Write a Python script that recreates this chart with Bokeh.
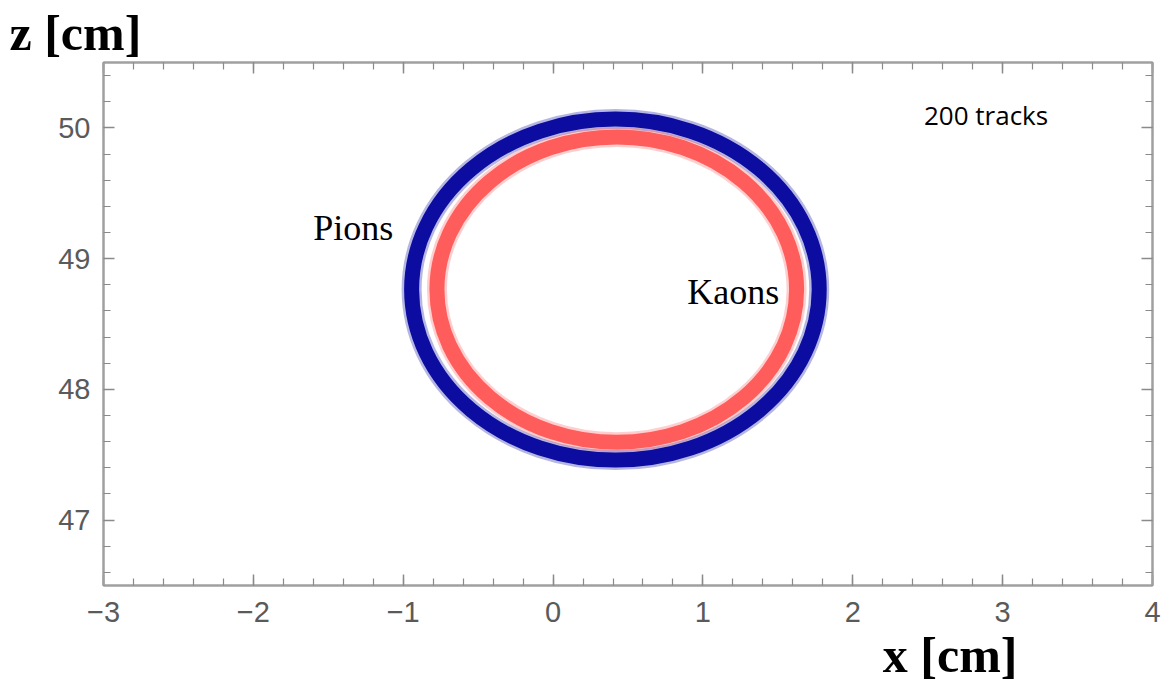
from bokeh.plotting import figure
from bokeh.models import LinearAxis, FixedTicker, Label, Range1d, Title
from bokeh.embed import file_html
from bokeh.resources import INLINE

# Ring parameters (centre, full width, full height in cm)
species = ["Pions", "Kaons"]
center_x = [0.416, 0.425]
center_z = [48.763, 48.763]
ring_width = [2.72, 2.40]
ring_height = [2.61, 2.336]
ring_colors = ["#0c0ca0", "#ff5c5c"]

x_ticks = [-3, -2, -1, 0, 1, 2, 3, 4]
z_ticks = [47, 48, 49, 50]
x_minor = [round(-3 + 0.2 * i, 1) for i in range(36)]
z_minor = [round(46.6 + 0.2 * i, 1) for i in range(20)]

p = figure(width=1166, height=685, output_backend="svg", toolbar_location=None,
           x_range=Range1d(-3, 4), y_range=Range1d(46.5, 50.5),
           min_border_left=103, min_border_top=61, min_border_right=14, min_border_bottom=100,
           x_axis_location=None, y_axis_location=None)
p.grid.visible = False
p.outline_line_color = "#a0a0a0"
p.outline_line_width = 2

p.title.text = "z [cm]"
p.title.text_font = "Liberation Serif"
p.title.text_font_style = "bold"
p.title.text_font_size = "50px"
p.title.text_color = "black"
p.title.align = "left"
p.title.offset = -94
p.title.standoff = 4

def style_axis(ax, ticks, minor, show_labels):
    ax.ticker = FixedTicker(ticks=ticks, minor_ticks=minor)
    ax.axis_line_color = "#a0a0a0"
    ax.axis_line_width = 2
    ax.major_tick_line_color = "#8a8a8a"
    ax.minor_tick_line_color = "#8a8a8a"
    ax.major_tick_line_width = 1.5
    ax.minor_tick_line_width = 1.2
    ax.major_tick_in = 11
    ax.major_tick_out = 0
    ax.minor_tick_in = 7
    ax.minor_tick_out = 0
    if show_labels:
        ax.major_label_text_font = "Liberation Sans"
        ax.major_label_text_font_size = "29px"
        ax.major_label_text_color = "#5a5a5a"
    else:
        ax.major_label_overrides = {t: "" for t in ticks}
        ax.major_label_text_font_size = "1px"
        ax.major_label_standoff = 0

xb = LinearAxis()
style_axis(xb, x_ticks, x_minor, True)
xb.major_label_standoff = 16
xb.major_label_overrides = {t: ("\u2212" + str(-t) if t < 0 else str(t)) for t in x_ticks}
p.add_layout(xb, "below")

yl = LinearAxis()
style_axis(yl, z_ticks, z_minor, True)
yl.major_label_standoff = 13
p.add_layout(yl, "left")

xa = LinearAxis()
style_axis(xa, x_ticks, x_minor, False)
p.add_layout(xa, "above")

yr = LinearAxis()
style_axis(yr, z_ticks, z_minor, False)
p.add_layout(yr, "right")

p.add_layout(Title(text="x [cm]", text_font="Liberation Serif", text_font_style="bold",
                   text_font_size="50px", text_color="black", align="right",
                   offset=135, standoff=0), "below")

for cx, cz, w, h, c in zip(center_x, center_z, ring_width, ring_height, ring_colors):
    p.ellipse(x=[cx], y=[cz], width=[w], height=[h], fill_color=None,
              line_color=c, line_width=20, line_alpha=0.3)
    p.ellipse(x=[cx], y=[cz], width=[w], height=[h], fill_color=None,
              line_color=c, line_width=15)

p.add_layout(Label(x=-1.60, y=49.235, text="Pions", text_font="Liberation Serif",
                   text_font_size="36px", text_color="black", text_baseline="alphabetic"))
p.add_layout(Label(x=0.896, y=48.748, text="Kaons", text_font="Liberation Serif",
                   text_font_size="36px", text_color="black", text_baseline="alphabetic"))
p.add_layout(Label(x=2.475, y=50.10, text="200 tracks", text_font="Open Sans",
                   text_font_size="26px", text_color="black", text_baseline="alphabetic"))

open("out.html", "w").write(file_html(p, INLINE))
